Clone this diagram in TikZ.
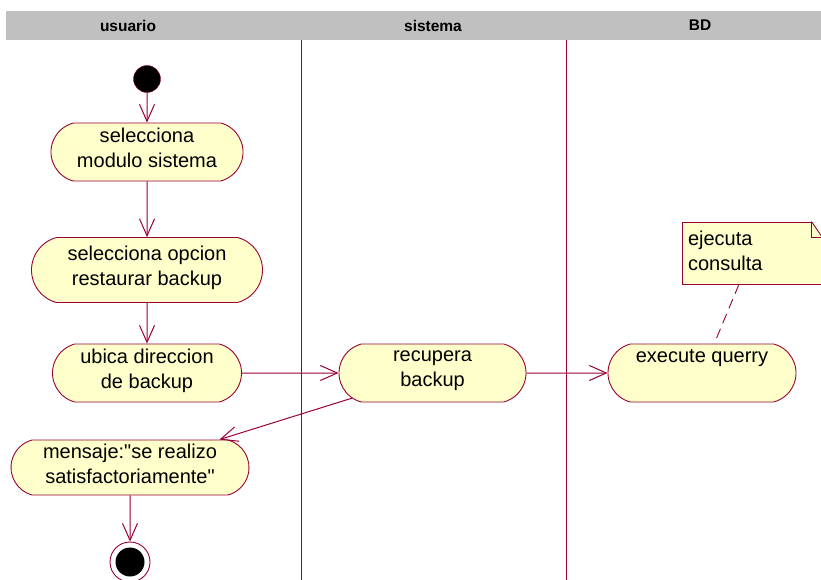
\documentclass[tikz,border=0pt]{standalone}
\usepackage{fontspec}
\setmainfont{Liberation Sans}
\usepackage{tikz}
\usetikzlibrary{arrows.meta}
\usetikzlibrary{shapes.misc}

\definecolor{borde}{HTML}{990033}
\definecolor{crema}{HTML}{FFFFCC}
\definecolor{carril}{HTML}{C0C0C0}

\begin{document}
\begin{tikzpicture}[x=1pt,y=-1pt,
		accion/.style={rounded rectangle,rounded rectangle arc length=150,draw=borde,fill=crema,line width=0.9pt,align=center,inner sep=0pt,text depth=8pt,font=\fontsize{20}{25}\selectfont},
		flecha/.style={draw=borde,line width=1pt,-{Straight Barb[length=17pt,width=15pt,line width=1pt]}},
		titulo/.style={font=\bfseries\fontsize{15.5}{18}\selectfont}]
			\useasboundingbox (0,0) rectangle (821,580);
			\clip (0,0) rectangle (821,580);
			
			% carriles
			
			\fill[carril] (6,11) rectangle (821,40);
			\node[titulo] (T1) at (128,25.5) {usuario};
			\node[titulo] (T2) at (433,25.5) {sistema};
			\node[titulo] (T3) at (700,25.5) {BD};
			\draw[borde,line width=0.9pt] (301,40) -- (301,580);
			\draw[borde,line width=0.9pt] (566,40) -- (566,580);
			
			% usuario
			
			\node[circle,draw=borde,fill=black,minimum size=27pt,inner sep=0pt] (inicio) at (147,79) {};
			\node[accion,minimum width=192pt,minimum height=58pt] (A1) at (147,152) {selecciona\\modulo sistema};
			\node[accion,minimum width=231pt,minimum height=65pt] (A2) at (147,270) {selecciona opcion\\restaurar backup};
			\node[accion,minimum width=189pt,minimum height=58pt] (A3) at (147,373) {ubica direccion\\de backup};
			\node[accion,minimum width=238pt,minimum height=55pt] (A4) at (130,467.5) {mensaje:\textquotedbl se realizo\\satisfactoriamente\textquotedbl};
			\node[circle,draw=borde,fill=white,line width=0.9pt,minimum size=40pt,inner sep=0pt] (fin) at (130,562) {};
			\node[circle,fill=black,minimum size=29pt,inner sep=0pt] (finc) at (fin) {};
			
			% sistema
			
			\node[accion,minimum width=187pt,minimum height=58pt] (S1) at (432.5,373) {recupera\\backup};
			
			% BD
			
			\node[accion,minimum width=188pt,minimum height=58pt] (B1) at (702,373) {execute querry\\\mbox{}};
			\node[draw=borde,fill=crema,line width=0.9pt,minimum width=140pt,minimum height=62pt,text width=128pt,inner sep=6pt,text depth=30pt,align=left,font=\fontsize{20}{25}\selectfont] (nota) at (752,253) {ejecuta\\consulta};
			\fill[white] ([xshift=-11pt]nota.north east) -- (nota.north east) -- ([yshift=-16pt]nota.north east) -- cycle;
			\draw[borde,line width=0.9pt] ([xshift=-11pt]nota.north east) |- ([yshift=-16pt]nota.north east);
			\draw[borde,line width=0.9pt] ([xshift=-11pt]nota.north east) -- ([yshift=-16pt]nota.north east);
			
			\draw[flecha] (inicio) -- (A1);
			\draw[flecha] (A1) -- (A2);
			\draw[flecha] (A2) -- (A3);
			\draw[flecha] (A3) -- (S1);
			\draw[flecha] (S1) -- (B1);
			\draw[flecha] (S1) -- (A4);
			\draw[flecha] (A4) -- (fin);
			\draw[borde,line width=0.9pt,dash pattern=on 10pt off 6pt] (nota) -- (B1);
		\end{tikzpicture}
\end{document}
